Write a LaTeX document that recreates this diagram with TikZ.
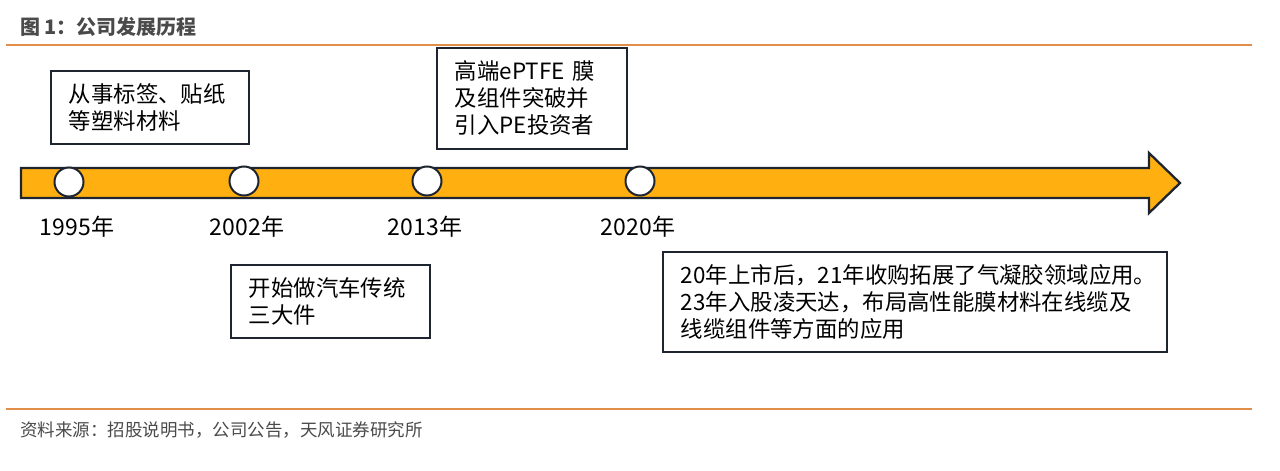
\documentclass[tikz,border=0pt]{standalone}
\usepackage{fontspec}
\setmainfont{Noto Sans CJK SC}
\definecolor{gold}{HTML}{FFB010}
\definecolor{ink}{HTML}{1E2530}
\definecolor{rulec}{HTML}{E08E4A}
\definecolor{greytext}{HTML}{4A4A4A}
\tikzset{
  txtbox/.style={draw=ink,line width=1.9pt,fill=white,rectangle,inner ysep=0pt,inner xsep=0pt,align=left,text=black,font=\fontsize{22.4}{27}\selectfont},
  mile/.style={circle,draw=ink,line width=2pt,fill=white,minimum size=29pt,inner sep=0pt},
  yearlabel/.style={inner sep=0pt,text=black,font=\fontsize{23}{27}\selectfont},
  rulel/.style={draw=rulec,line width=1.3pt},
}
\begin{document}
\begin{tikzpicture}[x=1pt,y=-1pt]
\useasboundingbox (0,0) rectangle (1280,471);
\node[anchor=west,inner sep=0pt,text=greytext,font=\fontsize{20}{22}\selectfont\bfseries] (title) at (20,27) {图 1：公司发展历程};
\coordinate (tl) at (6,45); \coordinate (tr) at (1252,45);
\draw[rulel] (tl) -- (tr);
\coordinate (bl) at (6,409); \coordinate (br) at (1252,409);
\draw[rulel] (bl) -- (br);
\draw[draw=ink,line width=2.3pt,fill=gold,line join=miter]
  (21,168) -- (1149,168) -- (1149,153) -- (1180,183) -- (1149,213) -- (1149,198) -- (21,198) -- cycle;
\node[mile] (m1) at (69,182) {};
\node[mile] (m2) at (244,181) {};
\node[mile] (m3) at (427,181) {};
\node[mile] (m4) at (640,181) {};
\node[yearlabel] (y1) at (77,227) {1995年};
\node[yearlabel] (y2) at (247,227) {2002年};
\node[yearlabel] (y3) at (425,227) {2013年};
\node[yearlabel] (y4) at (638,227) {2020年};
\node[txtbox,anchor=north west,minimum width=198pt,minimum height=73pt,text width=162pt] (b1) at (50,70) {从事标签、贴纸\\等塑料材料};
\node[txtbox,anchor=north west,minimum width=190pt,minimum height=101pt,text width=154pt] (b2) at (436,47) {高端ePTFE 膜\\及组件突破并\\引入PE投资者};
\node[txtbox,anchor=north west,minimum width=199pt,minimum height=73pt,text width=163pt] (b3) at (230,264) {开始做汽车传统\\三大件};
\node[txtbox,anchor=north west,minimum width=504pt,minimum height=100pt,text width=468pt] (b4) at (662,251) {20年上市后，21年收购拓展了气凝胶领域应用。\\23年入股凌天达，布局高性能膜材料在线缆及\\线缆组件等方面的应用};
\node[anchor=west,inner sep=0pt,text=greytext,font=\fontsize{17.5}{20}\selectfont] (src) at (20,430) {资料来源：招股说明书，公司公告，天风证券研究所};
\end{tikzpicture}
\end{document}
